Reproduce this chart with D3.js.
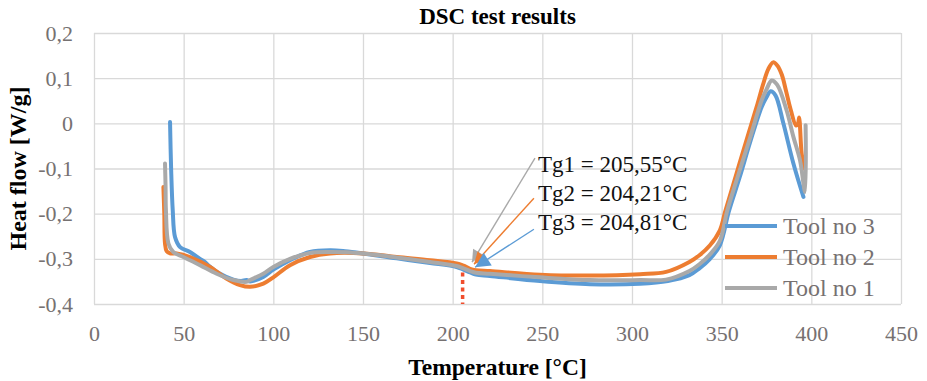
<!DOCTYPE html>
<html>
<head>
<meta charset="utf-8">
<script src="https://cdn.jsdelivr.net/npm/d3@7"></script>
<style>
  html, body { margin: 0; padding: 0; background: #fff; }
  svg { display: block; }
</style>
</head>
<body>
<div id="chart"></div>
<script>
// DSC curves (temperature in °C, heat flow in W/g)
const tool3Temp = [42.4, 43.0, 43.9, 45.2, 48, 53.5, 59.1, 61.9, 63.7, 70.3, 77.7, 82, 85.1, 87, 94.4, 100, 109.3, 120.4, 131.6, 140, 150.2, 168.8, 187.4, 202.2, 206, 209.7, 213, 220.8, 248.7, 276.6, 304.5, 320, 332, 337.6, 343.5, 349, 354, 360, 366, 372.3, 375, 377.3, 380, 384.4, 390, 395.6];
const tool3Flow = [0.003, -0.1, -0.192, -0.252, -0.274, -0.285, -0.300, -0.307, -0.314, -0.333, -0.346, -0.349, -0.347, -0.350, -0.340, -0.324, -0.303, -0.285, -0.281, -0.283, -0.288, -0.299, -0.309, -0.318, -0.324, -0.330, -0.335, -0.338, -0.349, -0.356, -0.355, -0.349, -0.336, -0.321, -0.300, -0.270, -0.195, -0.12, -0.04, 0.036, 0.058, 0.071, 0.062, 0.0, -0.089, -0.163];

const tool2Temp = [38.7, 39.2, 39.6, 40.5, 42.4, 46.1, 53.5, 64.7, 74, 81.4, 87, 94.4, 100, 109.3, 120.4, 131.6, 150.2, 168.8, 187.4, 202.2, 206, 209.7, 213, 220.8, 248.7, 276.6, 304.5, 319, 332, 337.6, 343.5, 349, 352, 355, 360, 365, 370, 373, 376, 378.7, 381, 383.5, 386, 388.5, 391.5, 392.6, 393.2, 394.6, 396];
const tool2Flow = [-0.141, -0.2, -0.266, -0.283, -0.288, -0.288, -0.296, -0.318, -0.344, -0.358, -0.362, -0.355, -0.341, -0.314, -0.296, -0.288, -0.288, -0.296, -0.303, -0.310, -0.315, -0.322, -0.325, -0.327, -0.335, -0.337, -0.334, -0.329, -0.307, -0.292, -0.270, -0.237, -0.195, -0.155, -0.088, -0.022, 0.043, 0.085, 0.12, 0.135, 0.128, 0.108, 0.07, 0.03, -0.005, 0.0, 0.013, -0.067, -0.10];

const tool1Temp = [39.6, 39.9, 40.1, 41.5, 44.2, 49.8, 59.1, 68.4, 77.7, 85.1, 87, 94.4, 100, 109.3, 120.4, 131.6, 150.2, 168.8, 187.4, 202.2, 206, 209.7, 213, 220.8, 248.7, 276.6, 304.5, 319, 332, 337.6, 343.5, 349, 353.2, 360, 366, 372.3, 375, 377.9, 381, 386.2, 390, 393.7, 396.5, 396.8];
const tool1Flow = [-0.089, -0.14, -0.192, -0.266, -0.285, -0.296, -0.314, -0.333, -0.347, -0.351, -0.347, -0.333, -0.318, -0.300, -0.287, -0.285, -0.288, -0.297, -0.307, -0.316, -0.321, -0.327, -0.331, -0.333, -0.341, -0.347, -0.347, -0.346, -0.327, -0.312, -0.290, -0.260, -0.192, -0.105, -0.03, 0.051, 0.075, 0.095, 0.085, 0.029, -0.03, -0.082, -0.152, -0.004];

const seriesNames = ['Tool no 3', 'Tool no 2', 'Tool no 1'];

const xTicks = [0, 50, 100, 150, 200, 250, 300, 350, 400, 450];
const yTicks = [-0.4, -0.3, -0.2, -0.1, 0, 0.1, 0.2];

// Tg annotations: label, arrow start and arrow tip (data coordinates)
const tgLabels = ['Tg1 = 205,55°C', 'Tg2 = 204,21°C', 'Tg3 = 204,81°C'];
const tgArrowStart = [[245.9, -0.077], [245.3, -0.166], [245.3, -0.2345]];
const tgArrowTip = [[210.8, -0.3075], [211.9, -0.312], [212.5, -0.3186]];
const tgMarkerTemp = 205.55;
const tgMarkerFlow = [-0.33, -0.4];

const W = 927, H = 381;
const mLeft = 94, mRight = 901, mTop = 33, mBottom = 304;
const serif = "'Liberation Serif', 'Times New Roman', Times, serif";
const gridColor = '#d9d9d9';
const tickColor = '#767171';
const tgColors = ['#a9a9a9', '#ed7d31', '#5b9bd5'];

const svg = d3.select('#chart').append('svg')
  .attr('width', W)
  .attr('height', H)
  .style('font-family', serif);

const x = d3.scaleLinear().domain([0, 450]).range([mLeft, mRight]);
const y = d3.scaleLinear().domain([-0.4, 0.2]).range([mBottom, mTop]);

const fmt = v => v === 0 ? '0' : d3.format('.1f')(v).replace('.', ',').replace('−', '-');

// grid + axes
const xAxis = svg.append('g')
  .attr('transform', `translate(0,${mBottom})`)
  .call(d3.axisBottom(x).tickValues(xTicks).tickSize(-(mBottom - mTop)).tickPadding(21).tickFormat(d => d));
const yAxis = svg.append('g')
  .attr('transform', `translate(${mLeft},0)`)
  .call(d3.axisLeft(y).tickValues(yTicks).tickSize(-(mRight - mLeft)).tickPadding(21).tickFormat(fmt));

[xAxis, yAxis].forEach(g => {
  g.attr('font-family', null);
  g.select('.domain').remove();
  g.selectAll('line').attr('stroke', gridColor).attr('stroke-width', 1.3);
  g.selectAll('text')
    .attr('fill', tickColor)
    .style('font-family', serif)
    .style('font-size', '22px');
});

// red dotted Tg marker
svg.append('line')
  .attr('x1', x(tgMarkerTemp)).attr('x2', x(tgMarkerTemp))
  .attr('y1', y(tgMarkerFlow[0])).attr('y2', y(tgMarkerFlow[1]))
  .attr('stroke', '#f04e2d')
  .attr('stroke-width', 3.5)
  .attr('stroke-dasharray', '4,3.5');

// curves
const series = [
  { name: seriesNames[0], temp: tool3Temp, flow: tool3Flow, color: '#5b9bd5' },
  { name: seriesNames[1], temp: tool2Temp, flow: tool2Flow, color: '#ed7d31' },
  { name: seriesNames[2], temp: tool1Temp, flow: tool1Flow, color: '#a9a9a9' }
];

const line = d3.line()
  .x(d => x(d[0]))
  .y(d => y(d[1]))
  .curve(d3.curveCatmullRom.alpha(0.5));

series.forEach(s => {
  const pts = s.temp.map((t, i) => [t, s.flow[i]]);
  svg.append('path')
    .attr('d', line(pts))
    .attr('fill', 'none')
    .attr('stroke', s.color)
    .attr('stroke-width', 4)
    .attr('stroke-linejoin', 'round')
    .attr('stroke-linecap', 'round');
});

// arrow heads
const defs = svg.append('defs');
tgColors.forEach((c, i) => {
  defs.append('marker')
    .attr('id', 'arrow' + i)
    .attr('viewBox', '0 0 10 10')
    .attr('refX', 10).attr('refY', 5)
    .attr('markerUnits', 'userSpaceOnUse')
    .attr('markerWidth', i === 2 ? 17 : 14)
    .attr('markerHeight', i === 2 ? 15 : 12)
    .attr('orient', 'auto')
    .append('path')
    .attr('d', 'M0,0 L10,5 L0,10 z')
    .attr('fill', c);
});

tgLabels.forEach((label, i) => {
  svg.append('line')
    .attr('x1', x(tgArrowStart[i][0])).attr('y1', y(tgArrowStart[i][1]))
    .attr('x2', x(tgArrowTip[i][0])).attr('y2', y(tgArrowTip[i][1]))
    .attr('stroke', tgColors[i])
    .attr('stroke-width', 1.4)
    .attr('marker-end', `url(#arrow${i})`);

  svg.append('text')
    .attr('x', 538)
    .attr('y', 172 + i * 29)
    .attr('fill', '#111')
    .style('font-size', '23px')
    .text(label);
});

// legend
const legend = svg.append('g').attr('transform', 'translate(725,226)');
series.forEach((s, i) => {
  const g = legend.append('g').attr('transform', `translate(0,${i * 31})`);
  g.append('line')
    .attr('x1', 0).attr('x2', 52)
    .attr('stroke', s.color)
    .attr('stroke-width', 4);
  g.append('text')
    .attr('x', 58)
    .attr('dy', '0.35em')
    .attr('fill', tickColor)
    .style('font-size', '24px')
    .text(s.name);
});

// titles
svg.append('text')
  .attr('x', (mLeft + mRight) / 2)
  .attr('y', 24)
  .attr('text-anchor', 'middle')
  .attr('font-weight', 'bold')
  .style('font-size', '23px')
  .text('DSC test results');

svg.append('text')
  .attr('transform', `translate(26,${(mTop + mBottom) / 2}) rotate(-90)`)
  .attr('text-anchor', 'middle')
  .attr('font-weight', 'bold')
  .style('font-size', '24px')
  .text('Heat flow [W/g]');

svg.append('text')
  .attr('x', (mLeft + mRight) / 2)
  .attr('y', 375)
  .attr('text-anchor', 'middle')
  .attr('font-weight', 'bold')
  .style('font-size', '23.5px')
  .text('Temperature [°C]');
</script>
</body>
</html>
